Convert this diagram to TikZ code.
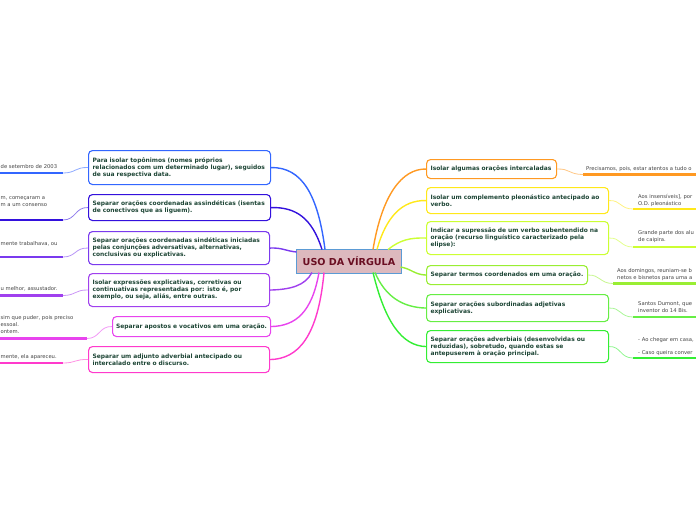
\documentclass[tikz,border=0pt]{standalone}
\usepackage{fontspec}
\setmainfont{DejaVu Sans}
\definecolor{boxtext}{HTML}{1E4636}
\definecolor{leaftext}{HTML}{444444}
\definecolor{ctitle}{HTML}{6A0E22}
\definecolor{cfill}{HTML}{DDB9BE}
\definecolor{cborder}{HTML}{5B9BD5}
\definecolor{cBlue}{HTML}{3366FF}
\definecolor{cIndigo}{HTML}{3311DD}
\definecolor{cPurple}{HTML}{7A3AEE}
\definecolor{cViolet}{HTML}{A040EE}
\definecolor{cMagenta}{HTML}{E844EE}
\definecolor{cPink}{HTML}{FF3ACC}
\definecolor{cOrange}{HTML}{FF9922}
\definecolor{cYellow}{HTML}{FFE81A}
\definecolor{cYG}{HTML}{CCFF33}
\definecolor{cLG}{HTML}{99EE33}
\definecolor{cGreen}{HTML}{66EE44}
\definecolor{cBG}{HTML}{33EE33}
\tikzset{
  box/.style={draw, rounded corners=4pt, line width=1.1pt, fill=white, anchor=north west,
    inner xsep=4pt, inner ysep=1pt, align=left,
    font=\fontsize{5.95}{7.1}\selectfont\bfseries, text=boxtext},
  leaf/.style={font=\fontsize{5.25}{7}\selectfont, text=leaftext, inner sep=0pt, align=left},
  conn/.style={line width=1.4pt},
  under/.style={line width=2.4pt},
  twig/.style={line width=0.8pt},
}
\begin{document}
\begin{tikzpicture}[x=1pt,y=-1pt]
\useasboundingbox (0,0) rectangle (696,520);
\clip (0,0) rectangle (696,520);
% center
\node[draw=cborder, line width=1pt, fill=cfill, minimum width=105pt, minimum height=24pt,
  inner sep=0pt, font=\fontsize{9.6}{10}\selectfont\bfseries, text=ctitle, anchor=north west]
  (c) at (296,249) {USO DA VÍRGULA};
% left boxes
\node[box, draw=cBlue, text width=174pt, minimum height=34pt] (b1) at (88,150)
  {Para isolar topônimos (nomes próprios\\relacionados com um determinado lugar), seguidos\\de sua respectiva data.};
\node[box, draw=cIndigo, text width=174pt, minimum height=26pt] (b2) at (88,194)
  {Separar orações coordenadas assindéticas (isentas\\de conectivos que as liguem).};
\node[box, draw=cPurple, text width=173pt, minimum height=33pt] (b3) at (88,231)
  {Separar orações coordenadas sindéticas iniciadas\\pelas conjunções adversativas, alternativas,\\conclusivas ou explicativas.};
\node[box, draw=cViolet, text width=173pt, minimum height=33pt] (b4) at (88,273)
  {Isolar expressões explicativas, corretivas ou\\continuativas representadas por: isto é, por\\exemplo, ou seja, aliás, entre outras.};
\node[box, draw=cMagenta, minimum width=158pt, inner xsep=2.5pt, minimum height=20pt] (b5) at (112,316)
  {Separar apostos e vocativos em uma oração.};
\node[box, draw=cPink, text width=173pt, minimum height=26pt] (b6) at (88,346)
  {Separar um adjunto adverbial antecipado ou\\intercalado entre o discurso.};
% right boxes
\node[box, draw=cOrange, text width=122pt, minimum height=19pt] (r1) at (426,159)
  {Isolar algumas orações intercaladas};
\node[box, draw=cYellow, text width=174pt, minimum height=26pt] (r2) at (426,187)
  {Isolar um complemento pleonástico antecipado ao\\verbo.};
\node[box, draw=cYG, text width=174pt, minimum height=33pt] (r3) at (426,221)
  {Indicar a supressão de um verbo subentendido na\\oração (recurso linguístico caracterizado pela\\elipse):};
\node[box, draw=cLG, text width=153pt, minimum height=19pt] (r4) at (426,265)
  {Separar termos coordenados em uma oração.};
\node[box, draw=cGreen, text width=174pt, minimum height=27pt] (r5) at (426,294)
  {Separar orações subordinadas adjetivas\\explicativas.};
\node[box, draw=cBG, text width=174pt, minimum height=32pt] (r6) at (426,330)
  {Separar orações adverbiais (desenvolvidas ou\\reduzidas), sobretudo, quando estas se\\antepuserem à oração principal.};
% center connectors
\coordinate (p1) at (325,249.5);
\coordinate (p2) at (322,249.5);
\coordinate (p3) at (296.5,252);
\coordinate (p4) at (312,272.5);
\coordinate (p5) at (319,272.5);
\coordinate (p6) at (324,272.5);
\coordinate (q1) at (373,249.5);
\coordinate (q2) at (377,249.5);
\coordinate (q3) at (388,249.5);
\coordinate (q4) at (400.5,267);
\coordinate (q5) at (375,272.5);
\coordinate (q6) at (373,272.5);
\draw[conn,cBlue] (p1) .. controls (318,195) and (302,167) .. (b1.east);
\draw[conn,cIndigo] (p2) .. controls (312,218) and (296,207) .. (b2.east);
\draw[conn,cPurple] (p3) .. controls (286,251) and (282,247.5) .. (b3.east);
\draw[conn,cViolet] (p4) .. controls (305,286) and (290,289.5) .. (b4.east);
\draw[conn,cMagenta] (p5) .. controls (312,312) and (296,326) .. (b5.east);
\draw[conn,cPink] (p6) .. controls (318,337) and (298,359) .. (b6.east);
\draw[conn,cOrange] (q1) .. controls (382,195) and (402,168.5) .. (r1.west);
\draw[conn,cYellow] (q2) .. controls (386,217) and (402,200) .. (r2.west);
\draw[conn,cYG] (q3) .. controls (400,240) and (410,237.5) .. (r3.west);
\draw[conn,cLG] (q4) .. controls (412,269) and (414,274.5) .. (r4.west);
\draw[conn,cGreen] (q5) .. controls (385,296) and (402,307.5) .. (r5.west);
\draw[conn,cBG] (q6) .. controls (385,322) and (402,346) .. (r6.west);
% left leaves
\coordinate (e1) at (63,173); \coordinate (z1) at (-2,173);
\coordinate (e2) at (63,220); \coordinate (z2) at (-2,220);
\coordinate (e3) at (63,257); \coordinate (z3) at (-2,257);
\coordinate (e4) at (63,295.5); \coordinate (z4) at (-2,295.5);
\coordinate (e5) at (87,338.5); \coordinate (z5) at (-2,338.5);
\coordinate (e6) at (63,363); \coordinate (z6) at (-2,363);
\draw[under,cBlue] (z1) -- (e1);
\draw[twig,cBlue!55] (e1) .. controls (76,173) and (75,167) .. (b1.west);
\draw[under,cIndigo] (z2) -- (e2);
\draw[twig,cIndigo!55] (e2) .. controls (76,220) and (75,207) .. (b2.west);
\draw[under,cPurple] (z3) -- (e3);
\draw[twig,cPurple!55] (e3) .. controls (76,257) and (75,247.5) .. (b3.west);
\draw[under,cViolet] (z4) -- (e4);
\draw[twig,cViolet!55] (e4) .. controls (76,295.5) and (75,289.5) .. (b4.west);
\draw[under,cMagenta] (z5) -- (e5);
\draw[twig,cMagenta!55] (e5) .. controls (100,338.5) and (99,326) .. (b5.west);
\draw[under,cPink] (z6) -- (e6);
\draw[twig,cPink!55] (e6) .. controls (76,363) and (75,359) .. (b6.west);
\node[leaf, anchor=north west] (t1) at (0.5,164.5) {de setembro de 2003};
\node[leaf, anchor=north west] (t2) at (0.5,196.5) {m, começaram a\\m a um consenso};
\node[leaf, anchor=north west] (t3) at (0.5,241) {mente trabalhava, ou};
\node[leaf, anchor=north west] (t4) at (0.5,286.5) {u melhor, assustador.};
\node[leaf, anchor=north west] (t5) at (0.5,315.5) {sim que puder, pois preciso\\essoal.\\ontem.};
\node[leaf, anchor=north west] (t6) at (0.5,354.5) {mente, ela apareceu.};
% right leaves
\coordinate (f1) at (583,174.5); \coordinate (w1) at (698,174.5);
\coordinate (f2) at (633,209); \coordinate (w2) at (698,209);
\coordinate (f3) at (633,247); \coordinate (w3) at (698,247);
\coordinate (f4) at (613,283.5); \coordinate (w4) at (698,283.5);
\coordinate (f5) at (633,317); \coordinate (w5) at (698,317);
\coordinate (f6) at (633,358); \coordinate (w6) at (698,358);
\draw[under,cOrange] (f1) -- (w1);
\draw[twig,cOrange!55] (r1.east) .. controls (570,168.5) and (569,174.5) .. (f1);
\draw[under,cYellow] (f2) -- (w2);
\draw[twig,cYellow!55] (r2.east) .. controls (621,200) and (620,209) .. (f2);
\draw[under,cYG] (f3) -- (w3);
\draw[twig,cYG!55] (r3.east) .. controls (621,237.5) and (620,247) .. (f3);
\draw[under,cLG] (f4) -- (w4);
\draw[twig,cLG!55] (r4.east) .. controls (600,274.5) and (600,283.5) .. (f4);
\draw[under,cGreen] (f5) -- (w5);
\draw[twig,cGreen!55] (r5.east) .. controls (621,307.5) and (620,317) .. (f5);
\draw[under,cBG] (f6) -- (w6);
\draw[twig,cBG!55] (r6.east) .. controls (621,346) and (620,358) .. (f6);
\node[leaf, anchor=north west] (u1) at (586,166.5) {Precisamos, pois, estar atentos a tudo o};
\node[leaf, anchor=north west] (u2) at (638,194.5) {Aos insensíveis], por\\O.D. pleonástico};
\node[leaf, anchor=north west] (u3) at (638,230.5) {Grande parte dos alu\\de caipira.};
\node[leaf, anchor=north west] (u4) at (617,268.5) {Aos domingos, reuniam-se b\\netos e bisnetos para uma a};
\node[leaf, anchor=north west] (u5) at (638,301.5) {Santos Dumont, que\\inventor do 14 Bis.};
\node[leaf, anchor=north west] (u6) at (638,337.5) {- Ao chegar em casa,\\[6pt]- Caso queira conver};
\end{tikzpicture}
\end{document}
